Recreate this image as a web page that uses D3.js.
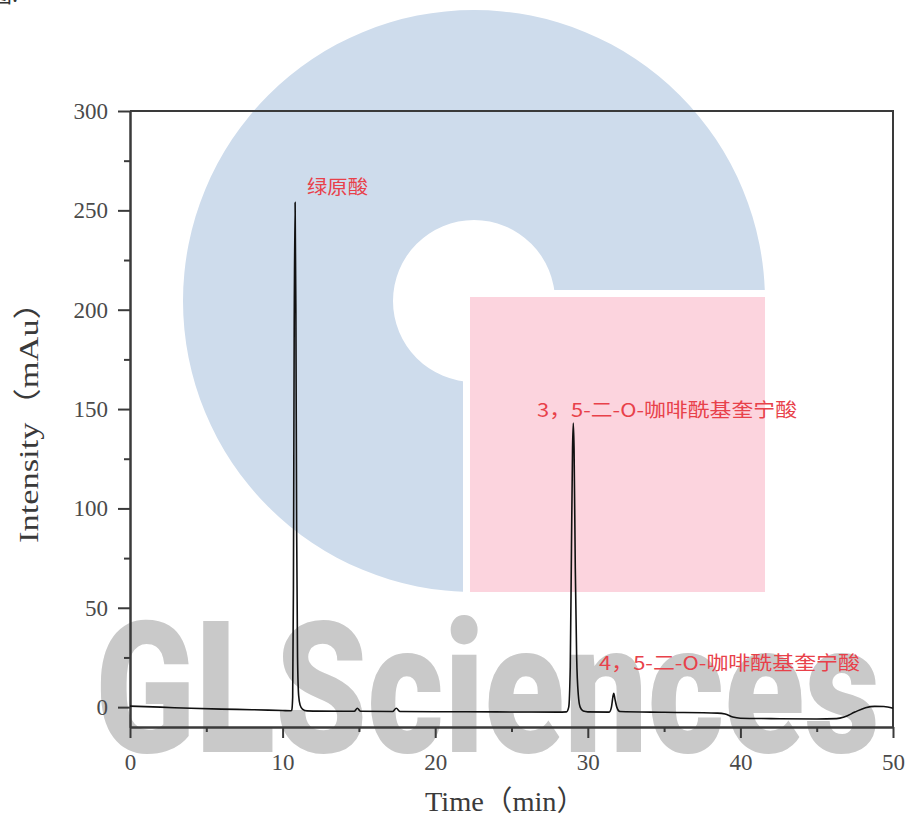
<!DOCTYPE html>
<html>
<head>
<meta charset="utf-8">
<script src="https://cdn.jsdelivr.net/npm/d3@7/dist/d3.min.js"></script>
<style>
  html, body { margin: 0; padding: 0; background: #ffffff; }
  svg { display: block; }
</style>
</head>
<body>
<div id="chart"></div>
<script>
// HPLC chromatogram: retention time (min) vs detector response (mAu)
const times = [
  0, 2, 4, 6, 8, 10, 10.55, 10.6, 10.66, 10.71, 10.76, 10.82, 10.87, 10.92, 10.98,
  11.05, 11.15, 11.3, 11.6, 12, 14, 14.7, 14.9, 15.1, 17.2, 17.45, 17.7, 20, 24,
  28, 28.6, 28.75, 28.85, 28.93, 29.0, 29.05, 29.1, 29.18, 29.27, 29.38, 29.5, 29.7,
  30, 31.4, 31.55, 31.65, 31.7, 31.78, 31.9, 32.1, 35, 38.5, 39.0, 39.5, 40.0, 42,
  45, 46.3, 46.8, 47.5, 48.2, 48.8, 49.4, 50
];
const intensity = [
  0.5, 0.0, -0.6, -1.0, -1.3, -1.7, -1.8, -1.5, 5, 60, 190, 254, 200, 90, 25,
  6, 1, -1, -1.9, -2.0, -2.1, -2.1, -0.6, -2.1, -2.2, -0.6, -2.2, -2.3, -2.4,
  -2.5, -2.4, 0, 20, 80, 130, 143, 130, 70, 25, 6, 0, -2,
  -2.4, -2.5, 0, 5.5, 7, 4, 0, -2.2, -2.6, -3.0, -3.5, -5.0, -5.6, -5.8,
  -6.0, -5.8, -5.0, -2.5, -0.3, 0.4, 0.3, -0.6
];

// Axis ticks
const xMajorTicks = [0, 10, 20, 30, 40, 50];
const xMinorTicks = [5, 15, 25, 35, 45];
const yMajorTicks = [0, 50, 100, 150, 200, 250, 300];
const yMinorTicks = [25, 75, 125, 175, 225, 275];

// Peak annotations
const peakNames = ["绿原酸", "3，5-二-O-咖啡酰基奎宁酸", "4，5-二-O-咖啡酰基奎宁酸"];
const peakTimes = [10.82, 29.05, 31.7];

const xTitle = "Time（min）";
const yTitle = "Intensity（mAu）";

const W = 909, H = 816;
const svg = d3.select("#chart").append("svg")
  .attr("width", W).attr("height", H);

const x = d3.scaleLinear().domain([0, 50]).range([130, 893]);
const y = d3.scaleLinear().domain([-10, 300]).range([727, 111]);

// ---- background emblem ----
const emblem = svg.append("g");
const cx = 474, cy = 301;
const defs = svg.append("defs");
defs.append("clipPath").attr("id", "ringClip")
  .append("path")
  .attr("d", `M0,0 H${W} V290 H463 V${H} H0 Z`);
emblem.append("path")
  .attr("transform", `translate(${cx},${cy})`)
  .attr("clip-path", null)
  .attr("d", d3.arc()({ innerRadius: 81, outerRadius: 291, startAngle: 0, endAngle: 2 * Math.PI }))
  .attr("fill", "#cedcec");
emblem.select("path").remove();
emblem.append("g").attr("clip-path", "url(#ringClip)")
  .append("path")
  .attr("transform", `translate(${cx},${cy})`)
  .attr("d", d3.arc()({ innerRadius: 81, outerRadius: 291, startAngle: 0, endAngle: 2 * Math.PI }))
  .attr("fill", "#cedcec");
emblem.append("rect")
  .attr("x", 470).attr("y", 297).attr("width", 295).attr("height", 295)
  .attr("fill", "#fcd4de");

// ---- brand lettering ----
svg.append("text")
  .attr("x", 95).attr("y", 752)
  .attr("textLength", 785)
  .attr("lengthAdjust", "spacingAndGlyphs")
  .style("font-family", "Roboto, 'DejaVu Sans', sans-serif")
  .style("font-weight", 900)
  .style("font-size", "183px")
  .attr("fill", "#c9c9c9")
  .text("GLSciences");

// fragment of a caption above the chart
svg.append("text")
  .attr("x", -10).attr("y", 2)
  .style("font-family", "'Noto Sans CJK SC', sans-serif")
  .style("font-size", "22px")
  .attr("fill", "#333")
  .text("图:");

// ---- axes ----
const axisColor = "#3a3a3a";
const tickFont = "'Liberation Serif', 'Times New Roman', serif";

function styleAxis(g) {
  g.selectAll("path.domain").attr("stroke", axisColor).attr("stroke-width", 2);
  g.selectAll(".tick line").attr("stroke", axisColor).attr("stroke-width", 2);
  g.selectAll(".tick text")
    .style("font-family", tickFont)
    .style("font-size", "23px")
    .attr("fill", "#4a4a4a");
}

const yAxisG = svg.append("g").attr("transform", `translate(${x(0)},0)`)
  .call(d3.axisLeft(y).tickValues(yMajorTicks).tickSize(12).tickSizeOuter(0).tickPadding(10))
  .call(styleAxis);
svg.append("g").attr("transform", `translate(${x(0)},0)`)
  .call(d3.axisLeft(y).tickValues(yMinorTicks).tickSize(6).tickSizeOuter(0).tickFormat(""))
  .call(styleAxis);

const xAxisG = svg.append("g").attr("transform", `translate(0,${y(-10)})`)
  .call(d3.axisBottom(x).tickValues(xMajorTicks).tickSize(11).tickSizeOuter(0).tickPadding(16))
  .call(styleAxis);
svg.append("g").attr("transform", `translate(0,${y(-10)})`)
  .call(d3.axisBottom(x).tickValues(xMinorTicks).tickSize(5).tickSizeOuter(0).tickFormat(""))
  .call(styleAxis);

// top and right frame
svg.append("path")
  .attr("d", `M${x(0)},${y(300)} H${x(50)} V${y(-10)}`)
  .attr("fill", "none").attr("stroke", axisColor).attr("stroke-width", 2);

// ---- trace ----
const pts = times.map((t, i) => [t, intensity[i]]);
svg.append("path")
  .datum(pts)
  .attr("d", d3.line().x(d => x(d[0])).y(d => y(d[1])).curve(d3.curveMonotoneX))
  .attr("fill", "none")
  .attr("stroke", "#111")
  .attr("stroke-width", 1.6)
  .attr("stroke-linejoin", "round");

// ---- peak labels ----
const labelFont = "'Noto Sans CJK SC', sans-serif";
const labelPos = [
  { x: 307, y: 194, size: 19, len: 61 },
  { x: 537, y: 417, size: 19, len: 260 },
  { x: 599, y: 670, size: 19, len: 261 }
];
peakNames.forEach((name, i) => {
  svg.append("text")
    .attr("x", labelPos[i].x).attr("y", labelPos[i].y)
    .attr("textLength", labelPos[i].len)
    .attr("lengthAdjust", "spacingAndGlyphs")
    .style("font-family", labelFont)
    .style("font-size", labelPos[i].size + "px")
    .attr("fill", "#e8414a")
    .text(name);
});

// ---- axis titles ----
svg.append("text")
  .attr("x", 425).attr("y", 811)
  .attr("textLength", 160)
  .attr("lengthAdjust", "spacingAndGlyphs")
  .style("font-family", tickFont + ", 'Noto Sans CJK SC'")
  .style("font-size", "28px")
  .attr("fill", "#3a3a3a")
  .text(xTitle);

svg.append("text")
  .attr("transform", "translate(38,543) rotate(-90)")
  .attr("x", 0).attr("y", 0)
  .attr("textLength", 258)
  .attr("lengthAdjust", "spacingAndGlyphs")
  .style("font-family", tickFont + ", 'Noto Sans CJK SC'")
  .style("font-size", "28px")
  .attr("fill", "#3a3a3a")
  .text(yTitle);
</script>
</body>
</html>
